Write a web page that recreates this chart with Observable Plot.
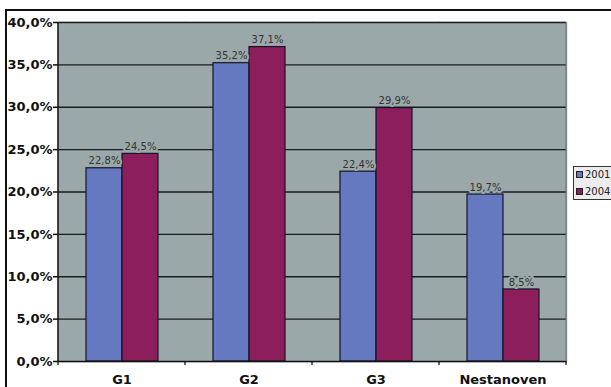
<!DOCTYPE html>
<html>
<head>
<meta charset="utf-8">
<script src="https://cdn.jsdelivr.net/npm/d3@7"></script>
<script src="https://cdn.jsdelivr.net/npm/@observablehq/plot@0.6"></script>
<style>
  html, body { margin: 0; padding: 0; background: #fff; }
  #wrap { position: relative; width: 611px; height: 387px; overflow: hidden; background: #fff; }
  #border { position: absolute; left: 5px; top: 9px; width: 700px; height: 500px;
            border-left: 2px solid #111; border-top: 2px solid #111; pointer-events: none; }
  #legend { position: absolute; left: 573px; top: 166px; width: 50px; height: 32px;
            border: 1px solid #333; background: #ececec; font-family: "DejaVu Sans", sans-serif;
            font-size: 10px; color: #222; }
  .row { position: absolute; left: 2px; display: flex; align-items: center; height: 12px; }
  .sw { width: 5px; height: 5px; border: 1px solid #222; margin-right: 2px; }
  svg { position: absolute; left: 0; top: 0; }
</style>
</head>
<body>
<div id="wrap">
  <div id="chart"></div>
  <div id="border"></div>
  <div id="legend"></div>
</div>
<script>
const categories = ["G1", "G2", "G3", "Nestanoven"];
const years = ["2001", "2004"];
const values2001 = [22.8, 35.2, 22.4, 19.7];
const values2004 = [24.5, 37.1, 29.9, 8.5];
const yTicks = [0, 5, 10, 15, 20, 25, 30, 35, 40];
const colors = ["#6579c1", "#8c1f5b"];
const plotBg = "#9ba8aa";

const data = [];
categories.forEach((c, i) => {
  data.push({cat: c, year: years[0], value: values2001[i]});
  data.push({cat: c, year: years[1], value: values2004[i]});
});

const fmt = v => v.toFixed(1).replace(".", ",") + "%";

const chart = Plot.plot({
  width: 611,
  height: 387,
  marginLeft: 56,
  marginRight: 44,
  marginTop: 22,
  marginBottom: 26,
  style: {background: "transparent", overflow: "visible"},
  fx: {domain: categories, padding: 0, axis: null},
  x: {domain: years, paddingInner: 0, paddingOuter: 0.76, axis: null},
  y: {domain: [0, 40], axis: null},
  color: {domain: years, range: colors},
  marks: [
    Plot.frame({fill: plotBg, stroke: plotBg, strokeWidth: 1.5}),
    Plot.frame({anchor: "top", stroke: "#b5bdbe", strokeWidth: 1}),
    Plot.ruleY(yTicks.filter(d => d > 0), {stroke: "#1c1c1c", strokeWidth: 1.3}),
    Plot.barY(data, {fx: "cat", x: "year", y: "value", fill: "year", stroke: "#141428", strokeWidth: 1.2}),
    Plot.text(data, {fx: "cat", x: "year", y: "value", text: d => fmt(d.value), dy: -7,
      fontSize: 10, fontFamily: "DejaVu Sans", fill: "#333", stroke: plotBg, strokeWidth: 4, paintOrder: "stroke"}),
    Plot.ruleY([0], {stroke: "#111", strokeWidth: 1.5}),
    Plot.axisY({ticks: yTicks, tickSize: 5, tickPadding: 1, tickFormat: fmt, fontSize: 13,
      fontWeight: "bold", fontFamily: "DejaVu Sans", fill: "#111", stroke: "#111", strokeWidth: 1.5, label: null}),
    Plot.axisFx({anchor: "bottom", tickSize: 0, tickPadding: 13, fontSize: 13, fontWeight: "bold",
      fontFamily: "DejaVu Sans", fill: "#111", label: null})
  ]
});
document.getElementById("chart").appendChild(chart);

// Plot-area edges and category separator ticks, from the chart's own scales
const fx = chart.scale("fx");
const ys = chart.scale("y");
const svg = d3.select(chart);
const yb = ys.apply(0), yt = ys.apply(40);
const edges = categories.map(c => fx.apply(c));
const last = fx.apply(categories[categories.length - 1]) + fx.bandwidth;
edges.push(last);
const g = svg.append("g");
g.append("line").attr("x1", last).attr("x2", last).attr("y1", yt).attr("y2", yb)
  .attr("stroke", "#6a6a6a").attr("stroke-width", 1);
g.append("line").attr("x1", edges[0]).attr("x2", edges[0]).attr("y1", yt).attr("y2", yb)
  .attr("stroke", "#111").attr("stroke-width", 1.5);
edges.forEach(x => {
  g.append("line").attr("x1", x).attr("x2", x).attr("y1", yb).attr("y2", yb + 4)
    .attr("stroke", "#111").attr("stroke-width", 1.3);
});

const legend = document.getElementById("legend");
years.forEach((y, i) => {
  const row = document.createElement("div");
  row.className = "row";
  row.style.top = (1 + i * 17) + "px";
  const sw = document.createElement("div");
  sw.className = "sw";
  sw.style.background = colors[i];
  const t = document.createElement("span");
  t.textContent = y;
  row.appendChild(sw);
  row.appendChild(t);
  legend.appendChild(row);
});
</script>
</body>
</html>
